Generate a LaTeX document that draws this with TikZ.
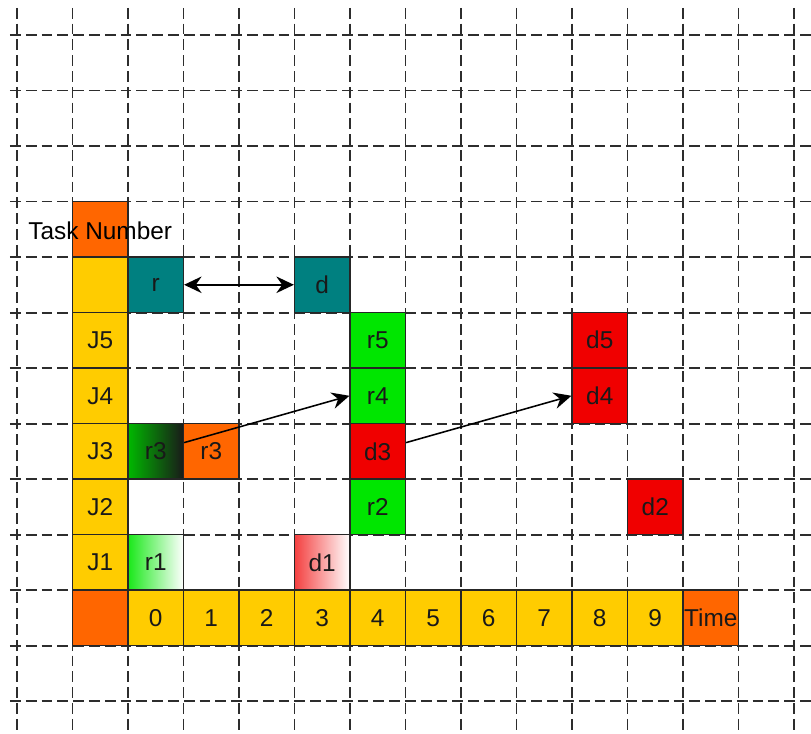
\documentclass[tikz,border=0pt]{standalone}
\usepackage{fontspec}
\setmainfont{Liberation Sans}
\usepackage{xcolor}
\usepackage{tikz}
\usetikzlibrary{arrows.meta, positioning}
\definecolor{taskorange}{RGB}{255, 102, 0}
\definecolor{axisyellow}{RGB}{255, 204, 0}
\definecolor{keyteal}{RGB}{0, 128, 128}
\definecolor{relgreen}{RGB}{0, 230, 0}
\definecolor{deadred}{RGB}{240, 0, 0}
\definecolor{gridgray}{RGB}{45, 45, 45}

\begin{document}
\begin{tikzpicture}[
    gridline/.style={draw=gridgray, line width=1pt, dash pattern=on 5.5pt off 2.6pt},
    cell/.style={draw=black!85, line width=0.6pt, minimum size=1cm, inner sep=0pt,
                 font=\fontsize{12.5}{14}\selectfont, text=black!90},
    axiscell/.style={cell, fill=axisyellow},
    corner/.style={cell, fill=taskorange},
    keycell/.style={cell, fill=keyteal},
    release/.style={cell, fill=relgreen},
    deadline/.style={cell, fill=deadred},
    link/.style={line width=0.8pt, black},
    tip/.tip={Stealth[length=9pt, width=8.5pt, inset=3pt]}
  ]
  \useasboundingbox (-0.306,-0.577) rectangle (14.306,12.631);

  \foreach \x in {0,...,14}
    \draw[gridline] (\x,12.49) -- (\x,-0.577);
  \foreach \y in {0,...,12}
    \draw[gridline] (-0.126,\y) -- (14.306,\y);

  \node[corner] (tasknum) at (1.5,8.5) {};
  \node[font=\fontsize{12.5}{14}\selectfont] (tasklabel) at (1.5,8.47) {Task Number};
  \node[axiscell] (blank) at (1.5,7.5) {};
  \node[keycell] (rkey) at (2.5,7.5) {r};
  \node[keycell] (dkey) at (5.5,7.5) {d};

  \foreach \j in {1,...,5}
    \node[axiscell] (j\j) at (1.5,\j+1.5) {J\j};

  \node[corner] (origin) at (1.5,1.5) {};
  \foreach \t in {0,...,9}
    \node[axiscell] (t\t) at (\t+2.5,1.5) {\t};
  \node[corner] (time) at (12.5,1.5) {Time};

  \node[cell, left color=relgreen!90!white, middle color=relgreen, right color=white] (r1) at (2.5,2.5) {r1};
  \node[cell, left color=deadred!75!white, middle color=deadred, right color=white] (d1) at (5.5,2.5) {d1};
  \node[release] (r2) at (6.5,3.5) {r2};
  \node[deadline] (d2) at (11.5,3.5) {d2};
  \node[cell, left color=relgreen!80!black, middle color=relgreen, right color=black!90] (r3a) at (2.5,4.5) {r3};
  \node[corner] (r3b) at (3.5,4.5) {r3};
  \node[deadline] (d3) at (6.5,4.5) {d3};
  \node[release] (r4) at (6.5,5.5) {r4};
  \node[deadline] (d4) at (10.5,5.5) {d4};
  \node[release] (r5) at (6.5,6.5) {r5};
  \node[deadline] (d5) at (10.5,6.5) {d5};

  \draw[link, tip-tip] (rkey.east) -- (dkey.west);
  \draw[link, -tip] (r3a.17) -- (r4.west);
  \draw[link, -tip] (d3.17) -- (d4.west);
\end{tikzpicture}
\end{document}
